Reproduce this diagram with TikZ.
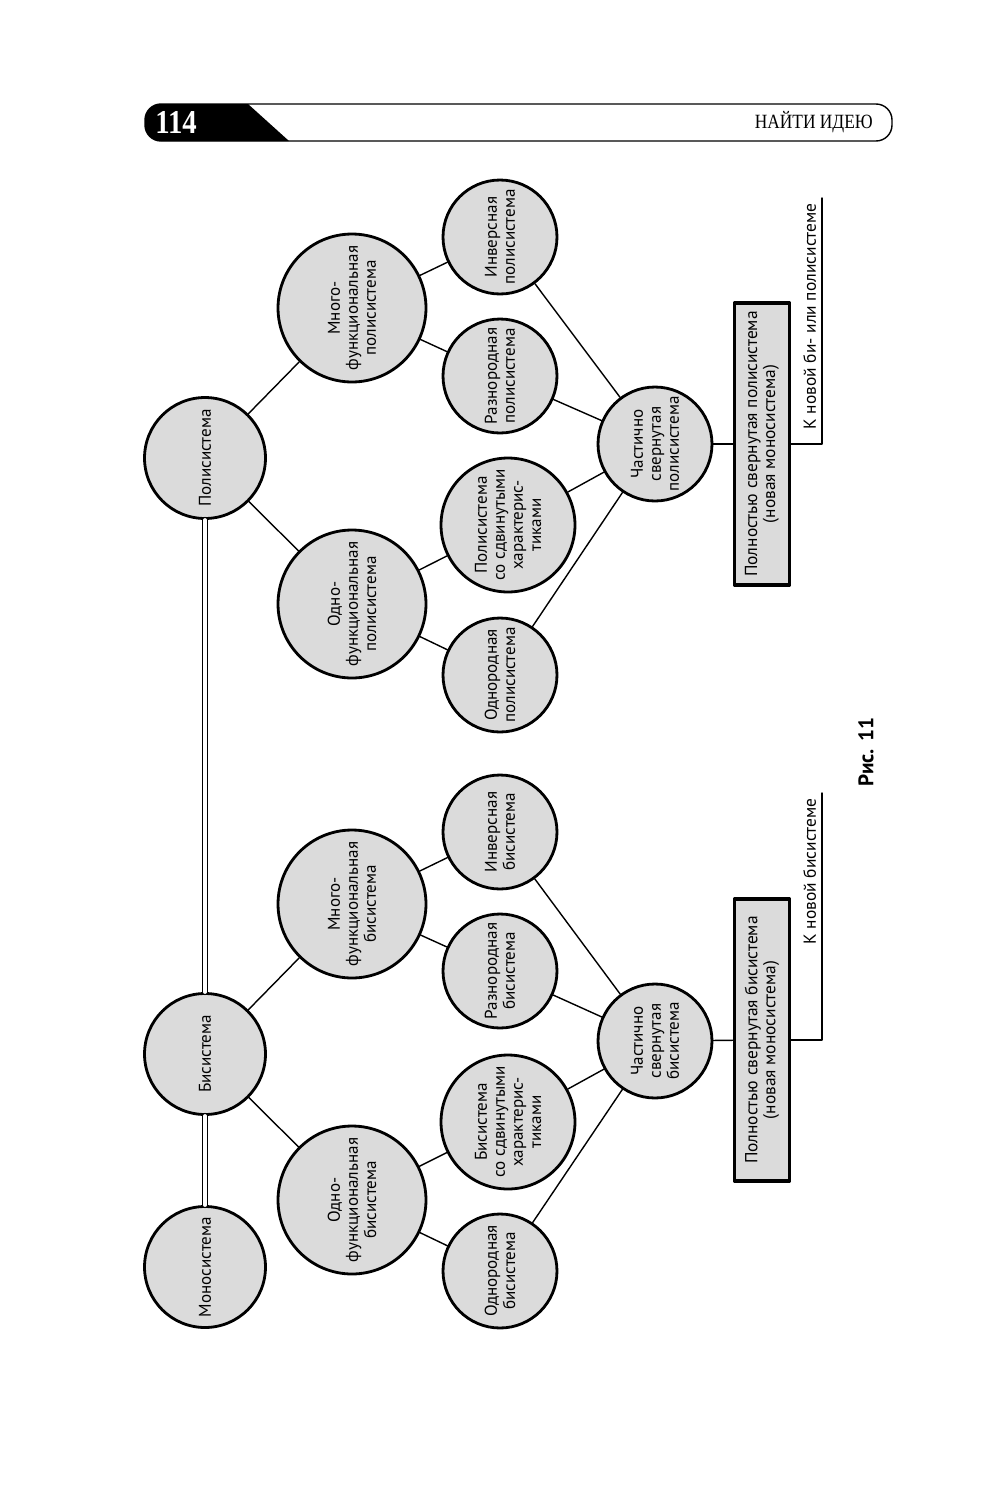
\documentclass[tikz,border=0pt]{standalone}
\usepackage{fontspec}
\setmainfont{PT Sans}
\newfontfamily\headfont[FakeStretch=0.86]{Liberation Serif}
\usetikzlibrary{calc}

\begin{document}
\begin{tikzpicture}[
  x=0.02cm,
  y=-0.02cm,
  line cap=round,
  line join=round,
  sysnode/.style={circle,draw=black,fill=black!14,line width=1.6pt,
    inner sep=0pt,align=center,rotate=90,
    font=\fontsize{9.7}{10.3}\selectfont},
  rootnode/.style={sysnode,minimum size=2.42cm},
  bignode/.style={sysnode,minimum size=2.96cm},
  midnode/.style={sysnode,minimum size=2.68cm},
  smallnode/.style={sysnode,minimum size=2.28cm},
  fullbox/.style={draw=black,fill=black!14,line width=1.9pt,rotate=90,
    minimum width=5.64cm,minimum height=1.1cm,inner sep=0pt,align=center,
    font=\fontsize{9.9}{10.3}\selectfont},
  link/.style={black,line width=0.8pt},
  twin/.style={black,double,double distance=2pt,line width=0.75pt},
  sidenote/.style={rotate=90,anchor=south east,inner sep=2pt,
    font=\fontsize{9.9}{10.3}\selectfont}
]
\path[use as bounding box,fill=white] (0,0) rectangle (994,1498);

% running head
\fill (289,141) -- (248,104) [rounded corners=0.32cm] -- (145,104)
  -- (145,141) [sharp corners] -- cycle;
\draw[line width=0.8pt,rounded corners=0.32cm] (145,104) rectangle (892,141);
\node[white,font=\headfont\bfseries\fontsize{19}{19}\selectfont] (pagenum)
  at (176,122) {114};
\node[anchor=east,font=\headfont\fontsize{11.5}{12}\selectfont] (runhead)
  at (879,122) {НАЙТИ ИДЕЮ};

% polysystem branch
\node[rootnode] (polyS) at (205,458) {Полисистема};
\node[bignode] (multiP) at (352,308) {Много-\\функциональная\\полисистема};
\node[bignode] (singleP) at (352,604) {Одно-\\функциональная\\полисистема};
\node[smallnode] (invP) at (500,237) {Инверсная\\полисистема};
\node[smallnode] (hetP) at (500,376) {Разнородная\\полисистема};
\node[midnode] (shiftP) at (508,525)
  {Полисистема\\со сдвинутыми\\характерис-\\тиками};
\node[smallnode] (homP) at (500,675) {Однородная\\полисистема};
\node[smallnode] (partP) at (655,444) {Частично\\свернутая\\полисистема};
\node[fullbox] (fullP) at (762,444)
  {Полностью свернутая полисистема\\(новая моносистема)};
\coordinate (endP) at (822,198);
\node[sidenote] (noteP) at (820,200) {К новой би- или полисистеме};

\draw[link] (polyS) -- (multiP);
\draw[link] (polyS) -- (singleP);
\draw[link] (multiP) -- (invP);
\draw[link] (multiP) -- (hetP);
\draw[link] (singleP) -- (shiftP);
\draw[link] (singleP) -- (homP);
\draw[link] (invP) -- (partP);
\draw[link] (hetP) -- (partP);
\draw[link] (shiftP) -- (partP);
\draw[link] (homP) -- (partP);
\draw[link] (partP) -- (fullP);
\draw[link] (fullP) -| (endP);

% bisystem branch
\node[rootnode] (biS) at (205,1054) {Бисистема};
\node[rootnode] (monoS) at (205,1267) {Моносистема};
\node[bignode] (multiB) at (352,904) {Много-\\функциональная\\бисистема};
\node[bignode] (singleB) at (352,1200) {Одно-\\функциональная\\бисистема};
\node[smallnode] (invB) at (500,832) {Инверсная\\бисистема};
\node[smallnode] (hetB) at (500,971) {Разнородная\\бисистема};
\node[midnode] (shiftB) at (508,1122)
  {Бисистема\\со сдвинутыми\\характерис-\\тиками};
\node[smallnode] (homB) at (500,1271) {Однородная\\бисистема};
\node[smallnode] (partB) at (655,1041) {Частично\\свернутая\\бисистема};
\node[fullbox] (fullB) at (762,1040)
  {Полностью свернутая бисистема\\(новая моносистема)};
\coordinate (endB) at (822,793);
\node[sidenote] (noteB) at (820,795) {К новой бисистеме};

\draw[link] (biS) -- (multiB);
\draw[link] (biS) -- (singleB);
\draw[link] (multiB) -- (invB);
\draw[link] (multiB) -- (hetB);
\draw[link] (singleB) -- (shiftB);
\draw[link] (singleB) -- (homB);
\draw[link] (invB) -- (partB);
\draw[link] (hetB) -- (partB);
\draw[link] (shiftB) -- (partB);
\draw[link] (homB) -- (partB);
\draw[link] (partB) -- (fullB);
\draw[link] (fullB) -| (endB);

\draw[twin] (polyS) -- (biS);
\draw[twin] (biS) -- (monoS);

\node[rotate=90,font=\bfseries\fontsize{12}{12}\selectfont] (caption)
  at (866,752) {Рис. 11};
\end{tikzpicture}
\end{document}
